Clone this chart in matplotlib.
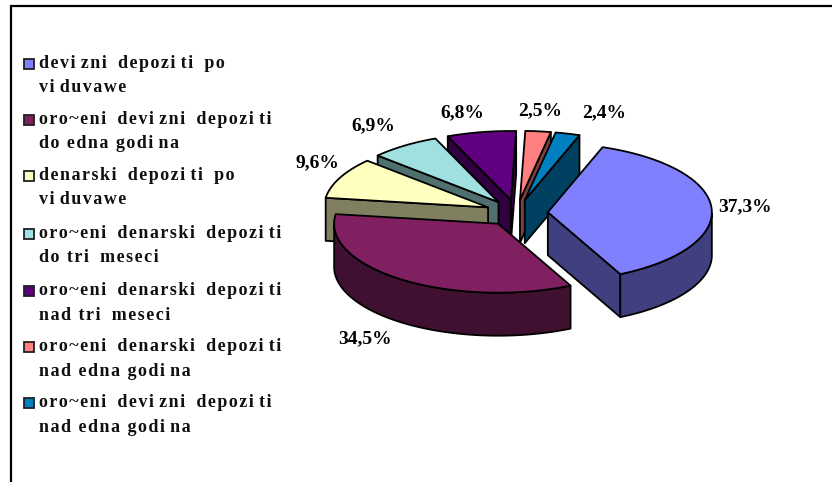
import numpy as np
import matplotlib
matplotlib.use("Agg")
import matplotlib.pyplot as plt
from matplotlib.patches import Polygon, Rectangle

# ---- data ----
labels = [
    "devizni depoziti po\nviduvawe",
    "oro~eni devizni depoziti\ndo edna godina",
    "denarski depoziti po\nviduvawe",
    "oro~eni denarski depoziti\ndo tri meseci",
    "oro~eni denarski depoziti\nnad tri meseci",
    "oro~eni denarski depoziti\nnad edna godina",
    "oro~eni devizni depoziti\nnad edna godina",
]
shares = [37.3, 34.5, 9.6, 6.9, 6.8, 2.5, 2.4]
top_colors = ["#8080FF", "#802060", "#FFFFC0", "#A0E0E0", "#600080", "#FF8080", "#0080C0"]
side_colors = ["#404080", "#401030", "#808060", "#507070", "#300040", "#804040", "#004060"]
value_pos = [(745, 207), (365, 339), (317, 163), (373, 126), (462, 113), (540, 111), (604, 113)]
legend_baselines = [68, 124, 180, 238, 295, 351, 407]

# ---- pie geometry (pixels) ----
CX, CY = 516.5, 213.0
RX, RY = 164.0, 69.0
EXPLODE = 31.4
DEPTH = 43.0
START_ANGLE = 70.5

TEXT_FONT = ["Liberation Serif", "DejaVu Serif"]


def tracked(text):
    # the source font is very widely spaced, with a gap after each i
    out = []
    for ch in text:
        if ch == "i":
            out.append(ch + "\u200a\u2009")
        else:
            out.append(ch + "\u200a")
    return "".join(out)


def ellipse(theta):
    return RX * np.cos(theta), -RY * np.sin(theta)


fig = plt.figure(figsize=(8.32, 4.82), dpi=100)
ax = fig.add_axes([0, 0, 1, 1])
ax.set_xlim(0, 832)
ax.set_ylim(482, 0)
ax.axis("off")

# frame: only left and top show, the rest is cut off
ax.plot([11, 11, 832], [482, 6, 6], color="black", lw=1.6, solid_joinstyle="miter")

# ---- slices, back to front ----
slices = []
angle = START_ANGLE
for i, share in enumerate(shares):
    sweep = share / 100 * 360
    t1, t2 = np.radians(angle), np.radians(angle - sweep)
    mid = (t1 + t2) / 2
    apex_x = CX + EXPLODE * np.cos(mid)
    apex_y = CY - EXPLODE * (RY / RX) * np.sin(mid)
    slices.append((apex_y, apex_x, t1, t2, i))
    angle -= sweep

for order, (apex_y, apex_x, t1, t2, i) in enumerate(sorted(slices)):
    z = 2 + order
    thetas = np.linspace(t1, t2, 80)
    ex, ey = ellipse(thetas)
    ex, ey = ex + apex_x, ey + apex_y
    side = dict(facecolor=side_colors[i], edgecolor="black", lw=1.3, zorder=z,
                joinstyle="round")

    # radial walls that face the viewer
    for t, show in ((t1, np.cos(t1) < 0), (t2, np.cos(t2) > 0)):
        if show:
            dx, dy = ellipse(t)
            ax.add_patch(Polygon([(apex_x, apex_y), (apex_x + dx, apex_y + dy),
                                  (apex_x + dx, apex_y + dy + DEPTH),
                                  (apex_x, apex_y + DEPTH)], closed=True, **side))

    # outer wall only where the rim is on the near half
    near = np.sin(thetas) < 0
    if near.any():
        wx, wy = ex[near], ey[near]
        ax.add_patch(Polygon(np.r_[np.c_[wx, wy], np.c_[wx[::-1], wy[::-1] + DEPTH]],
                             closed=True, **side))

    ax.add_patch(Polygon(np.r_[[(apex_x, apex_y)], np.c_[ex, ey]], closed=True,
                         facecolor=top_colors[i], edgecolor="black", lw=1.3,
                         zorder=z + 0.5, joinstyle="round"))

# ---- value labels ----
for share, (x, y) in zip(shares, value_pos):
    ax.text(x, y, f"{share:.1f}".replace(".", ",") + "%", ha="center", va="center",
            family=TEXT_FONT, fontweight="bold", fontsize=14, color="black", zorder=20)

# ---- legend ----
for label, base, color in zip(labels, legend_baselines, top_colors):
    ax.add_patch(Rectangle((23.5, base - 9.5), 10, 10, facecolor=color, edgecolor="#202020",
                           lw=1.3, zorder=20))
    for k, line in enumerate(label.split("\n")):
        ax.text(39, base + k * 24.5, tracked(line), ha="left", va="baseline",
                family=TEXT_FONT, fontweight="bold", fontsize=13, color="#101010", zorder=20)

fig.savefig("out.png", dpi=100)
